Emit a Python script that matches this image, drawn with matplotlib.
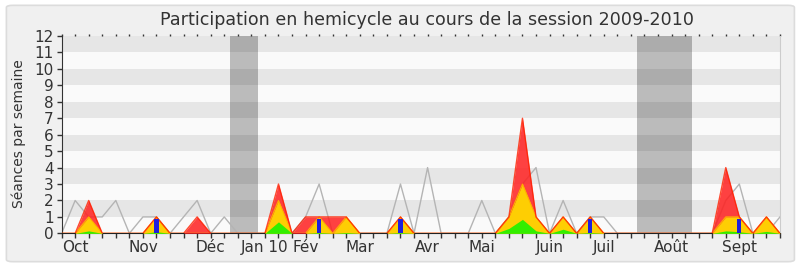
import matplotlib
matplotlib.use("Agg")
import matplotlib.pyplot as plt
from matplotlib.patches import FancyBboxPatch

# Weekly values for the 2009-2010 session (week index 0..53)
weeks = list(range(54))
hemicycle_total = [0, 2, 1, 1, 2, 0, 1, 1, 0, 1, 2, 0, 1, 0, 0, 0, 0, 0, 1, 3,
                   0, 0, 0, 0, 0, 3, 0, 4, 0, 0, 0, 2, 0, 1, 3, 4, 0, 2, 0, 1,
                   1, 0, 0, 0, 0, 0, 0, 0, 0, 2, 3, 0, 0, 1]
presences = [0, 0, 2, 0, 0, 0, 0, 1, 0, 0, 1, 0, 0, 0, 0, 0, 3, 0, 1, 1,
             1, 1, 0, 0, 0, 1, 0, 0, 0, 0, 0, 0, 0, 1, 7, 1, 0, 1, 0, 1,
             0, 0, 0, 0, 0, 0, 0, 0, 0, 4, 1, 0, 1, 0]
interventions = [0, 0, 1, 0, 0, 0, 0, 1, 0, 0, 0, 0, 0, 0, 0, 0, 2, 0, 0, 1,
                 0, 1, 0, 0, 0, 1, 0, 0, 0, 0, 0, 0, 0, 1, 3, 1, 0, 1, 0, 1,
                 0, 0, 0, 0, 0, 0, 0, 0, 0, 1, 1, 0, 1, 0]
longues = [0, 0, 0.15, 0, 0, 0, 0, 0.1, 0, 0, 0, 0, 0, 0, 0, 0, 0.7, 0, 0, 0.05,
           0, 0.05, 0, 0, 0, 0.05, 0, 0, 0, 0, 0, 0, 0, 0.3, 0.85, 0.15, 0, 0.25, 0, 0.05,
           0, 0, 0, 0, 0, 0, 0, 0, 0, 0.15, 0.1, 0, 0.12, 0]
question_weeks = [7, 19, 25, 39, 50]
question_values = [0.87, 0.87, 0.87, 0.87, 0.85]

# Parliamentary recess periods (in weeks)
vacances = [(12.45, 14.5), (42.45, 46.5)]

month_labels = ["Oct", "Nov", "Déc", "Jan 10", "Fév", "Mar", "Avr", "Mai",
                "Juin", "Juil", "Août", "Sept"]
month_weeks = [1, 6, 11, 15, 18, 22, 27, 31, 36, 40, 45, 50]

fig = plt.figure(figsize=(8, 2.67), dpi=100)
fig.patch.set_facecolor("white")
panel = FancyBboxPatch((0.008, 0.02), 0.985, 0.96,
                       boxstyle="round,pad=0,rounding_size=0.008",
                       transform=fig.transFigure, facecolor="#f0f0f0",
                       edgecolor="#dcdcdc", linewidth=1.2, zorder=-10)
fig.patches.append(panel)

ax = fig.add_axes([0.077, 0.126, 0.898, 0.739])
ax.set_xlim(0, 53)
ax.set_ylim(0, 12)

# Alternating horizontal stripes
for k in range(12):
    ax.axhspan(k, k + 1, color="#e6e6e6" if k % 2 else "#fafafa", lw=0, zorder=0)
for a, b in vacances:
    ax.axvspan(a, b, color="black", alpha=0.25, lw=0, zorder=1)

ax.plot(weeks, hemicycle_total, color="#b4b4b4", lw=1, zorder=2)
ax.fill_between(weeks, presences, color="#ff2020", alpha=0.85, lw=0, zorder=3)
ax.fill_between(weeks, interventions, color="#ffd700", alpha=0.95, lw=0, zorder=4)
ax.plot(weeks, interventions, color="#ffb000", lw=0.8, zorder=5)
ax.plot(weeks, presences, color="#ff2000", lw=1, alpha=0.8, zorder=6)
ax.fill_between(weeks, longues, color="#33ee00", lw=0, zorder=7)
ax.bar(question_weeks, question_values, width=0.3, color="#2020dd", zorder=8)

ax.set_yticks(range(13))
ax.set_xticks(weeks)
xlabels = [""] * len(weeks)
for w, lab in zip(month_weeks, month_labels):
    xlabels[w] = lab
ax.set_xticklabels(xlabels)
ax.tick_params(axis="both", colors="#333333", labelsize=11, length=3.6, width=1)
ax.tick_params(axis="x", pad=1, top=True, direction="out")
ax.tick_params(axis="x", which="major", top=True, labeltop=False)
ax.tick_params(axis="y", pad=2)
for t in ax.xaxis.get_major_ticks():
    t.tick2line.set_markersize(1.5)

ax.spines["top"].set_visible(False)
ax.spines["right"].set_color("#cccccc")
ax.spines["left"].set_color("#333333")
ax.spines["bottom"].set_color("#222222")

fig.text(0.534, 0.925, "Participation en hemicycle au cours de la session 2009-2010",
         ha="center", va="center", fontsize=12.6, color="#333333")
fig.text(0.023, 0.498, "Séances par semaine", rotation=90, ha="center",
         va="center", fontsize=10, color="#333333")

fig.savefig("out.png", dpi=100)
